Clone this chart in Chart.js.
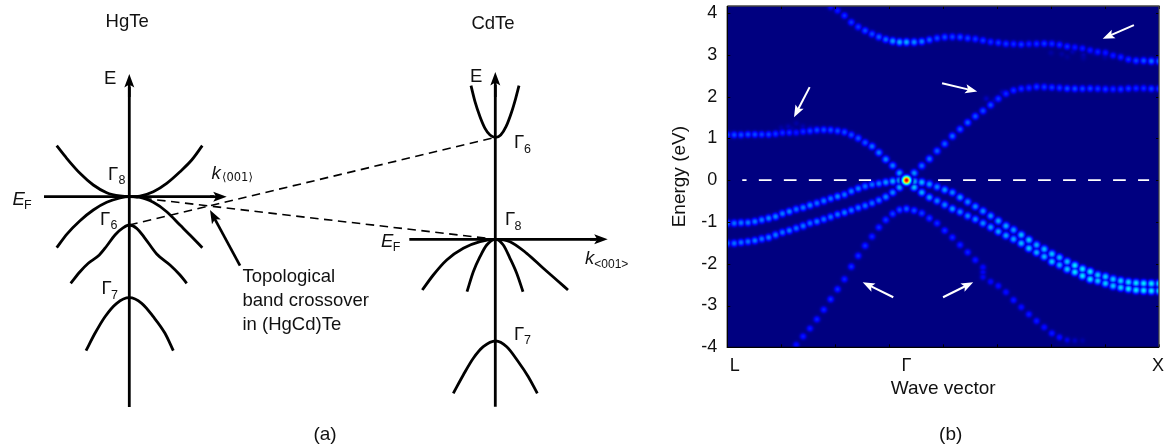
<!DOCTYPE html>
<html>
<head>
<meta charset="utf-8">
<title>Band crossover</title>
<script src="https://cdn.jsdelivr.net/npm/chart.js@4/dist/chart.umd.min.js"></script>
<style>
    html, body { margin: 0; padding: 0; background: #fff; overflow: hidden; }
    canvas { position: absolute; top: 0; }
    #schematic { left: 0; }
    #bands { left: 660px; }
</style>
</head>
<body>
<canvas id="schematic" width="660" height="448"></canvas>
<canvas id="bands" width="505" height="448"></canvas>
<script>
// Panel (a): schematic bands, k and E in arbitrary units
const hgFermiK = [4.4, 21.4];
const hgFermiE = [0.03, 0.03];
const hgAxisK = [12.93, 12.93];
const hgAxisE = [-21, 11];
const hg8K = [5.67, 6.67, 8, 9.33, 10.67, 12, 12.93, 14, 15.33, 16.67, 18, 19.17, 20.23];
const hg8UpperE = [5.13, 3.87, 2.37, 1.2, 0.43, 0.1, 0.03, 0.1, 0.53, 1.37, 2.53, 3.7, 5.13];
const hg8LowerE = [-5.07, -3.73, -2.37, -1.3, -0.53, -0.1, 0.03, -0.03, -0.53, -1.47, -2.8, -3.97, -5.07];
const hg6K = [7.07, 8, 8.83, 9.93, 10.67, 11.5, 12.33, 12.93, 13.67, 14.5, 15.67, 17, 18, 18.67];
const hg6E = [-8.63, -7.47, -6.63, -5.8, -4.9, -3.8, -3.07, -2.8, -3.13, -4.13, -5.7, -6.8, -7.8, -8.63];
const hg7K = [8.6, 9.5, 10.5, 11.67, 12.93, 14.17, 15.33, 16.5, 17.33];
const hg7E = [-15.37, -13.63, -11.97, -10.63, -10.07, -10.63, -11.97, -13.63, -15.37];

const cdFermiK = [40.93, 59.6];
const cdFermiE = [-4.23, -4.23];
const cdAxisK = [49.53, 49.53];
const cdAxisE = [-20.97, 11.2];
const cd6K = [47.1, 47.5, 48, 48.5, 49, 49.57, 50.07, 50.6, 51.17, 51.57, 51.9];
const cd6E = [11.13, 9.53, 8.03, 6.87, 6.2, 5.97, 6.2, 7.03, 8.53, 9.87, 11.13];
const cd8WideK = [42.23, 43.33, 44.67, 46.33, 48, 49.57, 51, 52.67, 54.33, 55.67, 56.8];
const cd8WideE = [-9.3, -7.8, -6.3, -5.13, -4.47, -4.23, -4.47, -5.63, -7.13, -8.3, -9.3];
const cd8NarrowK = [46.7, 47.33, 48, 48.67, 49.57, 50.33, 51, 51.67, 52.3];
const cd8NarrowE = [-9.47, -7.47, -5.97, -4.8, -4.23, -4.8, -6.13, -7.63, -9.47];
const cd7K = [45.33, 46.33, 47.33, 48.33, 49.57, 50.67, 51.83, 52.83, 53.73];
const cd7E = [-19.63, -17.8, -16.13, -14.97, -14.4, -14.97, -16.47, -17.97, -19.63];

const linkK = [12.93, 49.57];
const link8E = [0.03, -4.23];
const link6E = [-2.8, 5.97];

// Panel (b): unfolded bands, one energy per wave vector sample
const waveVector = [0, 0.128, 0.255, 0.383, 0.511, 0.638, 0.766, 0.894, 1.022, 1.149, 1.277, 1.405, 1.532, 1.66, 1.788, 1.915, 2.043, 2.171, 2.298, 2.426, 2.554, 2.682, 2.809, 2.937, 3.065, 3.192, 3.32,
    3.462, 3.604, 3.745, 3.887, 4.029, 4.171, 4.313, 4.455, 4.596, 4.738, 4.88, 5.022, 5.164, 5.305, 5.447, 5.589, 5.731, 5.873, 6.015, 6.156, 6.298, 6.44, 6.582, 6.724, 6.865, 7.007, 7.149, 7.291, 7.433, 7.575, 7.716, 7.858, 8];

const bandA = [null, null, null, null, null, null, null, null, null, null, null, null, null, null, null,
    4.14, 4.06, 3.94, 3.78, 3.67, 3.58, 3.5, 3.43, 3.37, 3.33, 3.305, 3.305,
    3.305, 3.32, 3.36, 3.4, 3.425, 3.43, 3.425, 3.4, 3.38, 3.345, 3.31, 3.29, 3.265, 3.26, 3.25, 3.26, 3.265, 3.27, 3.265, 3.24, 3.2, 3.18, 3.155, 3.11, 3.07, 3.05, 2.985, 2.945, 2.89, 2.86, 2.86, 2.85, 2.85];
const bandAWeight = [0, 0, 0, 0, 0, 0, 0, 0, 0, 0, 0, 0, 0, 0, 0,
    0.12, 0.15, 0.17, 0.18, 0.18, 0.2, 0.2, 0.22, 0.23, 0.28, 0.3, 0.3,
    0.27, 0.25, 0.22, 0.2, 0.2, 0.19, 0.2, 0.19, 0.18, 0.18, 0.17, 0.18, 0.18, 0.17, 0.18, 0.16, 0.17, 0.18, 0.17, 0.17, 0.17, 0.15, 0.15, 0.15, 0.16, 0.15, 0.15, 0.16, 0.17, 0.19, 0.21, 0.24, 0.24];

const bandB = [1.085, 1.085, 1.085, 1.095, 1.095, 1.095, 1.095, 1.11, 1.135, 1.14, 1.14, 1.165, 1.18, 1.2, 1.205, 1.2, 1.18, 1.15, 1.085, 1.005, 0.9, 0.81, 0.66, 0.5, 0.35, 0.17, 0,
    0.17, 0.345, 0.51, 0.7, 0.87, 1.055, 1.22, 1.38, 1.53, 1.66, 1.8, 1.95, 2.07, 2.15, 2.19, 2.21, 2.235, 2.23, 2.22, 2.21, 2.195, 2.19, 2.19, 2.195, 2.19, 2.18, 2.18, 2.18, 2.195, 2.2, 2.2, 2.19, 2.19];
const bandBWeight = [0.2, 0.2, 0.2, 0.2, 0.2, 0.19, 0.19, 0.18, 0.17, 0.17, 0.15, 0.17, 0.19, 0.2, 0.2, 0.2, 0.2, 0.2, 0.2, 0.21, 0.21, 0.24, 0.25, 0.26, 0.25, 0.29, 0.3,
    0.28, 0.23, 0.24, 0.22, 0.22, 0.23, 0.21, 0.22, 0.21, 0.2, 0.2, 0.18, 0.17, 0.17, 0.17, 0.17, 0.18, 0.18, 0.18, 0.18, 0.2, 0.2, 0.19, 0.19, 0.18, 0.18, 0.17, 0.18, 0.18, 0.17, 0.17, 0.19, 0.19];

const bandC = [-1.03, -1.03, -1.02, -1.015, -0.99, -0.95, -0.91, -0.87, -0.8, -0.75, -0.695, -0.655, -0.6, -0.55, -0.495, -0.44, -0.39, -0.345, -0.265, -0.2, -0.145, -0.105, -0.08, -0.05, -0.025, -0.005, 0,
    -0.03, -0.05, -0.095, -0.16, -0.23, -0.295, -0.41, -0.52, -0.63, -0.74, -0.855, -0.975, -1.095, -1.19, -1.31, -1.43, -1.55, -1.65, -1.765, -1.85, -1.95, -2.04, -2.125, -2.19, -2.27, -2.31, -2.37, -2.41, -2.44, -2.46, -2.47, -2.475, -2.475];
const bandCWeight = [0.24, 0.24, 0.25, 0.25, 0.25, 0.25, 0.26, 0.26, 0.25, 0.26, 0.24, 0.25, 0.26, 0.24, 0.25, 0.24, 0.26, 0.24, 0.25, 0.25, 0.24, 0.24, 0.25, 0.28, 0.3, 0.33, 0.4,
    0.33, 0.31, 0.28, 0.26, 0.28, 0.26, 0.28, 0.26, 0.26, 0.27, 0.27, 0.29, 0.3, 0.28, 0.32, 0.33, 0.3, 0.32, 0.33, 0.3, 0.32, 0.36, 0.36, 0.36, 0.33, 0.33, 0.33, 0.34, 0.35, 0.36, 0.36, 0.36, 0.36];

const bandD = [-1.51, -1.51, -1.49, -1.47, -1.445, -1.405, -1.37, -1.31, -1.25, -1.205, -1.15, -1.095, -1.03, -0.99, -0.935, -0.88, -0.82, -0.775, -0.72, -0.66, -0.61, -0.55, -0.48, -0.4, -0.295, -0.17, 0,
    -0.17, -0.295, -0.41, -0.495, -0.59, -0.685, -0.76, -0.855, -0.935, -1.03, -1.125, -1.23, -1.325, -1.41, -1.51, -1.63, -1.73, -1.83, -1.95, -2.03, -2.13, -2.2, -2.29, -2.37, -2.41, -2.47, -2.53, -2.57, -2.6, -2.63, -2.64, -2.65, -2.65];
const bandDWeight = [0.23, 0.24, 0.24, 0.24, 0.25, 0.24, 0.25, 0.25, 0.24, 0.25, 0.24, 0.25, 0.24, 0.25, 0.24, 0.24, 0.24, 0.25, 0.24, 0.24, 0.24, 0.24, 0.24, 0.26, 0.26, 0.3, 0.4,
    0.33, 0.3, 0.28, 0.26, 0.26, 0.28, 0.26, 0.26, 0.26, 0.27, 0.28, 0.29, 0.29, 0.29, 0.32, 0.33, 0.3, 0.31, 0.33, 0.3, 0.33, 0.36, 0.36, 0.36, 0.33, 0.33, 0.33, 0.34, 0.36, 0.36, 0.36, 0.36, 0.36];

const bandE = [null, null, null, null, null, null, null, null, null, null,
    -3.94, -3.74, -3.55, -3.33, -3.1, -2.85, -2.61, -2.37, -2.07, -1.81, -1.57, -1.35, -1.13, -0.95, -0.805, -0.71, -0.685,
    -0.725, -0.79, -0.91, -1.03, -1.205, -1.37, -1.55, -1.725, -1.91, -2.085, -2.43, -2.53, -2.68, -2.87, -3.04, -3.21, -3.37, -3.52, -3.665, -3.76, -3.825, -3.84, -3.84,
    null, null, null, null, null, null, null, null, null, null];
const bandEWeight = [0, 0, 0, 0, 0, 0, 0, 0, 0, 0,
    0.14, 0.15, 0.15, 0.16, 0.16, 0.17, 0.17, 0.16, 0.17, 0.17, 0.17, 0.16, 0.17, 0.18, 0.19, 0.2, 0.22,
    0.2, 0.19, 0.18, 0.17, 0.17, 0.16, 0.16, 0.16, 0.15, 0.13, 0.13, 0.14, 0.14, 0.15, 0.14, 0.15, 0.15, 0.14, 0.15, 0.14, 0.11, 0.08, 0.06,
    0, 0, 0, 0, 0, 0, 0, 0, 0, 0];

// faint smear where the bands are disturbed, at the white arrows
const smearK = [1, 1.13, 1.28, 1.4, 1.55, 1.2, 4.738, 4.738, 4.8, 4.95, 5.1, 6, 6.2, 6.4, 6.6, 6.8, 7, 6.3, 6.6];
const smearE = [1.25, 1.28, 1.36, 1.28, 1.26, 1.22, -2.2, -2.32, 1.95, 1.9, 2.1, 3.05, 3.02, 3.08, 3, 3.05, 2.95, 2.95, 2.92];
const smearWeight = [0.06, 0.07, 0.06, 0.07, 0.06, 0.06, 0.12, 0.12, 0.08, 0.08, 0.08, 0.06, 0.06, 0.07, 0.07, 0.07, 0.06, 0.05, 0.05];

const gammaK = [3.32];
const gammaE = [0];
const gammaWeight = [0.92];

const fermiLeftK = [0.277, 2.664];
const fermiRightK = [3.906, 7.817];
const fermiE = [0, 0];

const kTickValues = [0.14, 3.32, 7.98];
const kTickLabels = ['L', 'Γ', 'X'];
const kFrameTicks = [0, 1, 2, 3, 4, 5, 6, 7, 8];
const energyTicks = [-4, -3, -2, -1, 0, 1, 2, 3, 4];

// notes, arrows: [tailK, tailE, tipK, tipE]
const schematicArrows = [
    [24, -6.87, 21, -1.3],
    [12.93, 10, 12.93, 12.3],
    [21, 0.03, 22.67, 0.03],
    [49.53, 10, 49.53, 12.5],
    [59, -4.23, 60.77, -4.23]
];
const bandArrows = [
    [1.526, 2.228, 1.236, 1.509],
    [3.98, 2.323, 4.631, 2.122],
    [7.535, 3.713, 6.956, 3.384],
    [3.076, -2.802, 2.509, -2.443],
    [3.998, -2.802, 4.557, -2.443]
];

const FONT = '"Liberation Sans", Arial, sans-serif';
const schematicLabels = [
    { text: 'HgTe', k: 12.72, e: 17.5, size: 18.5, align: 'center' },
    { text: 'CdTe', k: 49.3, e: 17.3, size: 18.5, align: 'center' },
    { text: 'E', k: 10.4, e: 11.85, size: 18.5 },
    { text: 'E', k: 47, e: 12, size: 18.5 },
    { text: 'Γ', k: 10.8, e: 2.2, size: 18.5 },
    { text: '8', k: 11.85, e: 1.65, size: 12.5 },
    { text: 'E', k: 1.25, e: -0.3, size: 18.5, italic: true },
    { text: 'F', k: 2.4, e: -0.85, size: 12.5 },
    { text: 'k', k: 21.15, e: 2.3, size: 18.5, italic: true },
    { text: '⟨001⟩', k: 22.2, e: 1.85, size: 11.5, family: '"DejaVu Sans", sans-serif' },
    { text: 'Γ', k: 10, e: -2.3, size: 18.5 },
    { text: '6', k: 11.05, e: -2.9, size: 12.5 },
    { text: 'Γ', k: 10.15, e: -9.2, size: 18.5 },
    { text: '7', k: 11.1, e: -9.85, size: 12.5 },
    { text: 'Topological', k: 24.25, e: -7.97, size: 18.5 },
    { text: 'band crossover', k: 24.25, e: -10.37, size: 18.5 },
    { text: 'in (HgCd)Te', k: 24.25, e: -12.77, size: 18.5 },
    { text: 'Γ', k: 51.4, e: 5.4, size: 18.5 },
    { text: '6', k: 52.4, e: 4.75, size: 12.5 },
    { text: 'Γ', k: 50.5, e: -2.3, size: 18.5 },
    { text: '8', k: 51.45, e: -2.95, size: 12.5 },
    { text: 'E', k: 38.1, e: -4.45, size: 18.5, italic: true },
    { text: 'F', k: 39.27, e: -5.1, size: 12.5 },
    { text: 'k', k: 58.5, e: -6.2, size: 18.5, italic: true },
    { text: '<001>', k: 59.43, e: -6.8, size: 12 },
    { text: 'Γ', k: 51.4, e: -13.8, size: 18.5 },
    { text: '7', k: 52.4, e: -14.37, size: 12.5 },
    { text: '(a)', k: 32.5, e: -23.8, size: 19, align: 'center' }
];
const bandLabels = [
    { text: '(b)', k: 4.14, e: -6.1, size: 19, align: 'center' }
];

function zip(xs, ys) {
    return xs.map((x, i) => ({ x: x, y: ys[i] }));
}

// jet colour map, as the plotting program used
function jet(v) {
    const c = t => Math.round(255 * Math.max(0, Math.min(1, 1.5 - Math.abs(4 * v - t))));
    return [c(3), c(2), c(1)];
}

const spriteCache = {};
function dotSprite(weight) {
    const key = weight.toFixed(2);
    if (spriteCache[key]) return spriteCache[key];
    const big = weight > 0.5;
    const sigma = big ? 3 : 2.8;
    const R = big ? 12 : 10;
    const sprite = document.createElement('canvas');
    sprite.width = sprite.height = 2 * R + 1;
    const sctx = sprite.getContext('2d');
    const img = sctx.createImageData(2 * R + 1, 2 * R + 1);
    for (let y = -R; y <= R; y++) {
        for (let x = -R; x <= R; x++) {
            const v = weight * Math.exp(-(x * x + y * y) / (2 * sigma * sigma));
            const rgb = jet(v);
            const p = ((y + R) * (2 * R + 1) + x + R) * 4;
            img.data[p] = rgb[0];
            img.data[p + 1] = rgb[1];
            img.data[p + 2] = rgb[2];
            img.data[p + 3] = Math.round(255 * Math.min(1, v * 10));
        }
    }
    sctx.putImageData(img, 0, 0);
    spriteCache[key] = sprite;
    return sprite;
}

function drawArrow(ctx, x0, y0, x1, y1, color, width, len, half) {
    const a = Math.atan2(y1 - y0, x1 - x0);
    ctx.save();
    ctx.translate(x1, y1);
    ctx.rotate(a);
    const d = Math.hypot(x1 - x0, y1 - y0);
    ctx.strokeStyle = color;
    ctx.fillStyle = color;
    ctx.lineWidth = width;
    ctx.beginPath();
    ctx.moveTo(-d, 0);
    ctx.lineTo(-len * 0.7, 0);
    ctx.stroke();
    ctx.beginPath();
    ctx.moveTo(0, 0);
    ctx.lineTo(-len, -half);
    ctx.lineTo(-len * 0.78, 0);
    ctx.lineTo(-len, half);
    ctx.closePath();
    ctx.fill();
    ctx.restore();
}

function drawLabels(chart, labels) {
    const ctx = chart.ctx;
    const sx = chart.scales.x;
    const sy = chart.scales.y;
    ctx.save();
    ctx.fillStyle = '#111';
    ctx.textBaseline = 'middle';
    labels.forEach(l => {
        ctx.font = (l.italic ? 'italic ' : '') + l.size + 'px ' + (l.family || FONT);
        ctx.textAlign = l.align || 'left';
        ctx.fillText(l.text, sx.getPixelForValue(l.k), sy.getPixelForValue(l.e));
    });
    ctx.restore();
}

function drawArrows(chart, arrows, color, width, len, half) {
    const sx = chart.scales.x;
    const sy = chart.scales.y;
    arrows.forEach(a => {
        drawArrow(chart.ctx, sx.getPixelForValue(a[0]), sy.getPixelForValue(a[1]),
            sx.getPixelForValue(a[2]), sy.getPixelForValue(a[3]), color, width, len, half);
    });
}

const schematicNotes = {
    id: 'schematicNotes',
    afterDatasetsDraw(chart) {
        drawArrows(chart, schematicArrows, '#000', 2.7, 13.5, 5);
        drawLabels(chart, schematicLabels);
    }
};

const bandDecor = {
    id: 'bandDecor',
    beforeDatasetsDraw(chart) {
        const a = chart.chartArea;
        const rgb = jet(0);
        chart.ctx.fillStyle = 'rgb(' + rgb.join(',') + ')';
        chart.ctx.fillRect(a.left, a.top, a.width, a.height);
    },
    beforeDatasetDraw(chart, args) {
        if (chart.data.datasets[args.index].glow) chart.ctx.globalCompositeOperation = 'lighten';
    },
    afterDatasetDraw(chart) {
        chart.ctx.globalCompositeOperation = 'source-over';
    },
    afterDatasetsDraw(chart) {
        const ctx = chart.ctx;
        const a = chart.chartArea;
        const sx = chart.scales.x;
        const sy = chart.scales.y;
        drawArrows(chart, bandArrows, '#fff', 2, 12, 4.6);

        // inward tick marks on all four sides and the frame
        ctx.save();
        ctx.strokeStyle = '#000';
        ctx.lineWidth = 1;
        ctx.beginPath();
        kFrameTicks.forEach(v => {
            const x = Math.round(sx.getPixelForValue(v)) + 0.5;
            ctx.moveTo(x, a.bottom); ctx.lineTo(x, a.bottom - 3);
            ctx.moveTo(x, a.top); ctx.lineTo(x, a.top + 3);
        });
        energyTicks.forEach(v => {
            const y = Math.round(sy.getPixelForValue(v)) + 0.5;
            ctx.moveTo(a.left, y); ctx.lineTo(a.left + 3, y);
            ctx.moveTo(a.right, y); ctx.lineTo(a.right - 3, y);
        });
        ctx.stroke();
        ctx.lineWidth = 1.3;
        ctx.strokeStyle = '#444';
        ctx.beginPath();
        ctx.moveTo(a.left, a.top); ctx.lineTo(a.right, a.top); ctx.lineTo(a.right, a.bottom);
        ctx.stroke();
        ctx.strokeStyle = '#000';
        ctx.beginPath();
        ctx.moveTo(a.left, a.top); ctx.lineTo(a.left, a.bottom); ctx.lineTo(a.right, a.bottom);
        ctx.stroke();
        ctx.restore();
        drawLabels(chart, bandLabels);
    }
};

function curve(xs, ys) {
    return { data: zip(xs, ys), borderColor: '#000', borderWidth: 2.8, pointRadius: 0, cubicInterpolationMode: 'monotone', fill: false };
}
function straight(xs, ys) {
    return { data: zip(xs, ys), borderColor: '#000', borderWidth: 2.8, pointRadius: 0, fill: false };
}
function dashed(xs, ys) {
    return { data: zip(xs, ys), borderColor: '#000', borderWidth: 1.6, borderDash: [8.5, 5.5], pointRadius: 0, fill: false };
}
function dots(xs, ys, weights, glow) {
    return {
        data: zip(xs, ys),
        showLine: false,
        glow: glow,
        pointRadius: 6,
        pointBorderWidth: 0,
        pointStyle: ctx => ctx.dataIndex === undefined ? 'circle' : dotSprite(weights[ctx.dataIndex])
    };
}

new Chart(document.getElementById('schematic'), {
    type: 'line',
    data: {
        datasets: [
            straight(hgAxisK, hgAxisE), straight(hgFermiK, hgFermiE),
            curve(hg8K, hg8UpperE), curve(hg8K, hg8LowerE), curve(hg6K, hg6E), curve(hg7K, hg7E),
            straight(cdAxisK, cdAxisE), straight(cdFermiK, cdFermiE),
            curve(cd6K, cd6E), curve(cd8WideK, cd8WideE), curve(cd8NarrowK, cd8NarrowE), curve(cd7K, cd7E),
            dashed(linkK, link8E), dashed(linkK, link6E)
        ]
    },
    options: {
        responsive: false,
        animation: false,
        events: [],
        layout: { padding: 0 },
        plugins: { legend: { display: false }, tooltip: { enabled: false } },
        scales: {
            x: { type: 'linear', display: false, min: 0, max: 66 },
            y: { type: 'linear', display: false, min: -25.1, max: 19.7 }
        }
    },
    plugins: [schematicNotes]
});

new Chart(document.getElementById('bands'), {
    type: 'line',
    data: {
        datasets: [
            { data: zip(fermiLeftK, fermiE), borderColor: '#fff', borderWidth: 1.7, borderDash: [12.7, 12.3], borderDashOffset: 8.4, pointRadius: 0 },
            { data: zip(fermiRightK, fermiE), borderColor: '#fff', borderWidth: 1.7, borderDash: [12.7, 12.3], pointRadius: 0 },
            dots(gammaK, gammaE, gammaWeight, false),
            dots(waveVector, bandA, bandAWeight, true),
            dots(waveVector, bandB, bandBWeight, true),
            dots(waveVector, bandC, bandCWeight, true),
            dots(waveVector, bandD, bandDWeight, true),
            dots(waveVector, bandE, bandEWeight, true),
            dots(smearK, smearE, smearWeight, true)
        ]
    },
    options: {
        responsive: false,
        animation: false,
        events: [],
        layout: { padding: { top: 6, right: 4.3, bottom: 48, left: 0 } },
        plugins: { legend: { display: false }, tooltip: { enabled: false } },
        scales: {
            x: {
                type: 'linear',
                min: 0,
                max: 8,
                grid: { display: false },
                border: { display: false },
                afterBuildTicks: scale => { scale.ticks = kTickValues.map(v => ({ value: v })); },
                afterFit: scale => { scale.height = 52.7; scale.paddingLeft = 0; scale.paddingRight = 0; },
                ticks: {
                    autoSkip: false,
                    maxRotation: 0,
                    padding: 0,
                    color: '#111',
                    font: { family: FONT, size: 18 },
                    callback: (v, i) => kTickLabels[i]
                },
                title: { display: true, text: 'Wave vector', color: '#111', font: { family: FONT, size: 19 }, padding: 0 }
            },
            y: {
                type: 'linear',
                min: -4,
                max: 4.17,
                grid: { display: false },
                border: { display: false },
                afterFit: scale => { scale.width = 67.3; scale.paddingTop = 0; scale.paddingBottom = 0; },
                ticks: {
                    stepSize: 1,
                    includeBounds: false,
                    padding: 2,
                    color: '#111',
                    font: { family: FONT, size: 18 }
                },
                title: { display: true, text: 'Energy (eV)', color: '#111', font: { family: FONT, size: 19 }, padding: { top: 8, bottom: 0 } }
            }
        }
    },
    plugins: [bandDecor]
});
</script>
</body>
</html>
